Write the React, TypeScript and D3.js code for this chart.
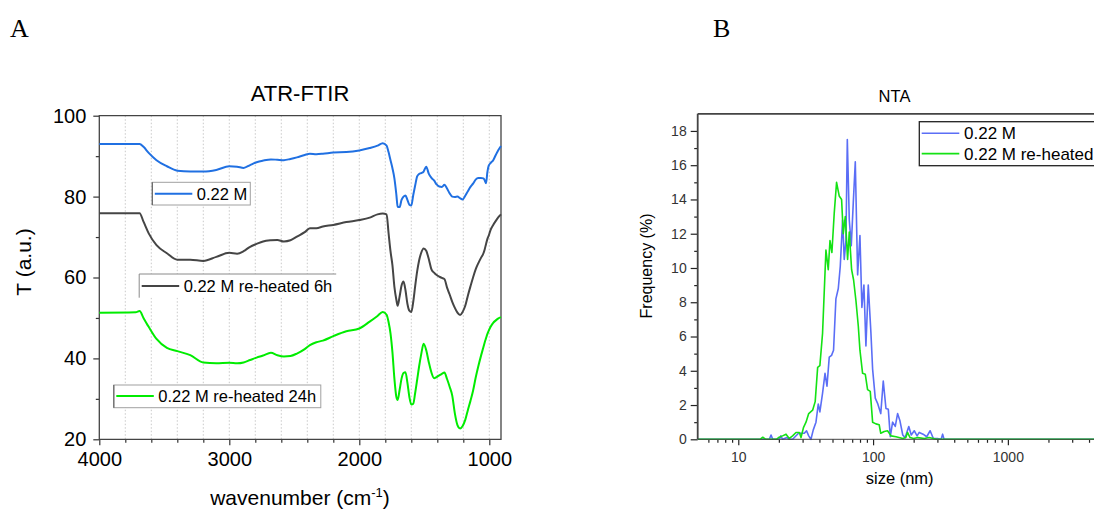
import { useEffect, useRef } from "react";
import {
    select,
    scaleLinear,
    scaleLog,
    axisBottom,
    axisLeft,
    line,
    curveMonotoneX,
    curveLinear,
    range,
} from "d3";

const FONT = "'Liberation Sans', Arial, sans-serif";

// ---- panel A: ATR-FTIR (wavenumber in cm-1, transmittance in a.u.)
const wavenumbers = [
    4000, 3720, 3690, 3660, 3620, 3560, 3480, 3400, 3300, 3200, 3100, 3000, 2940, 2890, 2840, 2790,
    2740, 2680, 2630, 2580, 2530, 2480, 2420, 2380, 2330, 2280, 2200, 2100, 2000, 1920, 1860, 1820,
    1790, 1775, 1760, 1745, 1730, 1715, 1705, 1690, 1675, 1660, 1645, 1630, 1615, 1600, 1585, 1570,
    1555, 1540, 1525, 1505, 1485, 1465, 1445, 1425, 1405, 1385, 1365, 1345, 1325, 1305, 1285, 1265,
    1245, 1225, 1205, 1185, 1165, 1145, 1125, 1105, 1085, 1065, 1045, 1035, 1025, 1015, 1005, 990,
    970, 950, 930, 910,
];
const tFresh = [
    93.0, 93.0, 93.0, 92.3, 90.8, 89.0, 87.5, 86.4, 86.2, 86.2, 86.6, 87.5, 87.4, 87.1, 87.8, 88.5,
    88.9, 89.2, 89.1, 89.0, 89.3, 89.7, 90.3, 90.6, 90.5, 90.6, 90.9, 91.0, 91.4, 92.0, 92.6, 93.2,
    92.6, 91.0, 89.0, 87.0, 84.5, 80.5, 77.5, 77.4, 79.2, 80.0, 80.3, 79.2, 78.0, 77.8, 80.4, 82.8,
    85.0, 85.6, 85.8, 86.2, 87.4, 85.6, 84.6, 84.0, 83.0, 82.5, 82.4, 82.9, 82.0, 80.8, 80.0, 79.9,
    80.0, 79.6, 79.3, 80.2, 81.3, 82.4, 83.2, 84.2, 84.6, 84.6, 84.5, 84.0, 83.3, 86.0, 87.6, 88.3,
    89.0, 90.3, 91.5, 92.5,
];
const tHeated6h = [
    75.9, 75.9, 75.9, 73.8, 70.9, 68.0, 66.0, 64.4, 64.4, 64.1, 65.1, 66.1, 65.9, 66.5, 67.6, 68.3,
    68.9, 69.2, 69.3, 68.9, 69.2, 70.1, 71.2, 72.2, 72.2, 72.6, 73.0, 73.7, 74.2, 74.8, 75.6, 75.8,
    75.6, 71.0, 66.5, 63.0, 57.7, 54.5, 53.0, 55.3, 58.0, 59.0, 56.9, 53.5, 51.8, 51.5, 54.0, 57.9,
    61.5, 64.2, 66.0, 67.2, 66.6, 64.5, 62.0, 61.2, 60.6, 60.2, 59.9, 59.6, 57.5, 55.8, 54.0, 52.5,
    51.3, 50.7, 51.5, 53.0, 55.5, 57.8, 60.0, 62.0, 63.5, 64.8, 66.0, 67.0, 68.3, 69.5, 70.3, 71.8,
    73.0, 74.0, 74.9, 75.6,
];
const tHeated24h = [
    51.3, 51.4, 51.7, 50.0, 47.8, 44.8, 42.6, 41.8, 40.8, 39.0, 38.8, 38.9, 38.8, 39.0, 39.6, 40.2,
    40.7, 41.4, 40.8, 40.5, 40.6, 41.2, 42.3, 43.3, 44.0, 44.4, 45.5, 46.7, 47.4, 49.1, 50.5, 51.5,
    50.8, 49.0, 46.2, 41.5, 35.0, 30.5, 29.7, 32.2, 35.0, 36.4, 36.6, 34.0, 30.5, 28.6, 28.8, 31.5,
    34.7, 38.0, 40.8, 43.6, 42.0, 39.0, 36.5, 35.1, 35.4, 35.8, 36.2, 36.5, 34.9, 33.0, 30.8, 26.4,
    23.5, 22.7, 23.3, 24.8, 27.2, 29.5, 32.0, 35.2, 38.0, 40.5, 42.8, 44.0, 45.0, 46.0, 46.8, 47.8,
    48.8, 49.4, 49.9, 50.2,
];
const ftirLabels = ["0.22 M", "0.22 M re-heated 6h", "0.22 M re-heated 24h"];
const ftirColors = ["#2070e2", "#454545", "#00ec00"];
const ftirXTicks = [4000, 3000, 2000, 1000];
const ftirYTicks = [20, 40, 60, 80, 100];

// ---- panel B: NTA (size in nm, frequency in %)
const ntaSizesFresh = [
    5, 17.0, 17.5, 18.0, 20.2, 20.7, 21.3, 23.0, 23.9, 25.3, 28.0, 29.7, 30.9, 32.1, 33.3, 34.6,
    36.0, 37.7, 39.2, 40.3, 42.2, 44.0, 45.5, 47.3, 49.2, 50.9, 53.0, 55.2, 57.1, 59.4, 61.1, 62.9,
    64.4, 66.6, 68.9, 71.3, 73.8, 76.8, 79.9, 82.6, 85.5, 88.5, 92.1, 96.4, 99.2, 103.8, 108, 114,
    119, 124.6, 129.7, 134.2, 139.6, 146.1, 152, 158, 166, 173, 184, 192, 202, 212, 220, 235, 250,
    265, 280, 300, 320, 328, 336, 10000,
];
const ntaFreqFresh = [
    0, 0, 0.25, 0, 0, 0.2, 0, 0.1, 0, 0, 0.35, 0.35, 0.35, 0.5, 0.2, 0,
    0.55, 1.0, 2.06, 1.6, 2.7, 3.85, 3.1, 4.8, 4.9, 5.2, 8.2, 8.8, 10.1, 12.8, 10.5, 11.6,
    17.5, 12.8, 11.3, 13.8, 16.2, 9.6, 11.9, 7.7, 9.0, 5.45, 9.0, 6.2, 4.1, 2.4, 2.1, 1.5,
    3.4, 1.8, 1.75, 0.15, 1.0, 0.75, 1.5, 1.1, 0.25, 0.1, 0.75, 0.25, 0.5, 0.2, 0.4, 0.3, 0.15,
    0.5, 0.05, 0.05, 0, 0.3, 0, 0,
];
const ntaSizesHeated = [
    5, 14.5, 15.2, 16.0, 19.2, 19.9, 21.3, 22.6, 23.9, 25.3, 26.8, 28.4, 29.2, 30.5, 31.8, 33.3,
    35.6, 37.2, 38.8, 40.3, 42.2, 44.7, 46.5, 47.9, 49.5, 51.5, 53.6, 56.1, 58.4, 60.1, 62.2, 64.7,
    66.6, 69.3, 71.7, 74.6, 77.7, 79.9, 83.6, 87.5, 91.0, 95.3, 99.2, 105, 111, 114, 121, 128,
    136, 148, 166, 175, 180, 188, 200, 215, 240, 260, 280, 295, 10000,
];
const ntaFreqHeated = [
    0, 0, 0.12, 0, 0, 0.1, 0.2, 0.3, 0.05, 0.2, 0.4, 0.4, 0.1, 0.7, 1.0, 1.5,
    1.7, 2.2, 4.2, 4.3, 6.2, 11.05, 9.9, 11.6, 10.9, 13.2, 15.0, 14.2, 14.0, 12.0, 13.0, 10.5,
    12.1, 9.9, 9.3, 8.1, 6.6, 5.2, 3.85, 3.8, 2.9, 2.8, 1.0, 0.9, 0.85, 0.35, 0.45, 0.5,
    0.2, 0.15, 0.05, 0.1, 0.4, 0.1, 0.05, 0.1, 0.05, 0.1, 0.05, 0, 0,
];
const ntaLabels = ["0.22 M", "0.22 M re-heated"];
const ntaColors = ["#5b6ef6", "#14e214"];
const ntaXTicks = [10, 100, 1000];
const ntaYTicks = [0, 2, 4, 6, 8, 10, 12, 14, 16, 18];

function App() {
    const svgRef = useRef(null);

    useEffect(() => {
        const svg = select(svgRef.current);
        svg.selectAll("*").remove();

        // panel letters
        svg.append("text").attr("x", 10).attr("y", 37).text("A")
            .attr("font-family", "'Liberation Serif', 'Times New Roman', serif").attr("font-size", 26);
        svg.append("text").attr("x", 713).attr("y", 37).text("B")
            .attr("font-family", "'Liberation Serif', 'Times New Roman', serif").attr("font-size", 26);

        // ================= panel A =================
        const xA = scaleLinear().domain([4000, 910]).range([99.3, 501]);
        const yA = scaleLinear().domain([20, 100]).range([439.3, 115.7]);
        const gA = svg.append("g");

        // dotted vertical grid
        gA.append("g")
            .selectAll("line")
            .data(range(3800, 900, -200))
            .join("line")
            .attr("x1", (d) => xA(d))
            .attr("x2", (d) => xA(d))
            .attr("y1", yA(100))
            .attr("y2", yA(20))
            .attr("stroke", "#c4c4c4")
            .attr("stroke-width", 0.9)
            .attr("stroke-dasharray", "1.5,2");

        // minor ticks
        gA.append("g")
            .attr("transform", `translate(0,${yA(20)})`)
            .call(axisBottom(xA).tickValues(range(3800, 900, -200).filter((d) => d % 1000 !== 0)).tickSize(3.5).tickFormat(() => ""))
            .call((g) => g.select(".domain").remove());
        gA.append("g")
            .attr("transform", `translate(${xA(4000)},0)`)
            .call(axisLeft(yA).tickValues([30, 50, 70, 90]).tickSize(3.5).tickFormat(() => ""))
            .call((g) => g.select(".domain").remove());

        // major ticks
        gA.append("g")
            .attr("transform", `translate(0,${yA(20)})`)
            .call(axisBottom(xA).tickValues(ftirXTicks).tickSize(6).tickPadding(7).tickFormat((d) => String(d)))
            .call((g) => g.select(".domain").remove())
            .attr("font-size", 20);
        gA.append("g")
            .attr("transform", `translate(${xA(4000)},0)`)
            .call(axisLeft(yA).tickValues(ftirYTicks).tickSize(6).tickPadding(7).tickFormat((d) => String(d)))
            .call((g) => g.select(".domain").remove())
            .attr("font-size", 20);

        gA.selectAll(".tick line").attr("stroke", "#333").attr("stroke-width", 1.2);
        gA.selectAll(".tick text").attr("fill", "#000").attr("font-family", FONT);

        // frame
        const [l, r] = xA.range();
        const [b, t] = yA.range();
        gA.append("path")
            .attr("d", `M${l},${b}H${r}V${t}H${l}Z`)
            .attr("fill", "none")
            .attr("stroke", "#444")
            .attr("stroke-width", 1.3);

        // spectra
        const ftirLine = line()
            .x((d) => xA(d[0]))
            .y((d) => yA(d[1]))
            .curve(curveMonotoneX);
        [tFresh, tHeated6h, tHeated24h].forEach((series, i) => {
            gA.append("path")
                .datum(wavenumbers.map((w, j) => [w, series[j]]))
                .attr("d", ftirLine)
                .attr("fill", "none")
                .attr("stroke", ftirColors[i])
                .attr("stroke-width", 2)
                .attr("stroke-linejoin", "round");
        });

        // legends (one box per trace)
        const legA = [
            { x: 152.3, y: 182.3, w: 98, h: 22.7, base: 200, lineY: 193.7 },
            { x: 139.2, y: 274, w: 197, h: 23.7, base: 292.3, lineY: 286, open: true },
            { x: 113.8, y: 385, w: 207, h: 22.7, base: 402.3, lineY: 396 },
        ];
        legA.forEach((o, i) => {
            const lg = gA.append("g");
            if (o.open) {
                lg.append("rect").attr("x", o.x).attr("y", o.y).attr("width", o.w).attr("height", o.h).attr("fill", "#fff");
                lg.append("path").attr("d", `M${o.x + o.w},${o.y}H${o.x}V${o.y + o.h}`)
                    .attr("fill", "none").attr("stroke", "#8a8a8a").attr("stroke-width", 1);
            } else {
                lg.append("rect").attr("x", o.x).attr("y", o.y).attr("width", o.w).attr("height", o.h)
                    .attr("fill", "#fff").attr("stroke", "#a0a0a0").attr("stroke-width", 1);
                lg.append("line").attr("x1", o.x).attr("x2", o.x).attr("y1", o.y).attr("y2", o.y + o.h)
                    .attr("stroke", "#666").attr("stroke-width", 1.2);
            }
            lg.append("line")
                .attr("x1", o.x + 2.5).attr("x2", o.x + 40).attr("y1", o.lineY).attr("y2", o.lineY)
                .attr("stroke", ftirColors[i]).attr("stroke-width", 2);
            lg.append("text")
                .attr("x", o.x + 44.5).attr("y", o.base)
                .attr("font-family", FONT).attr("font-size", 16.5)
                .text(ftirLabels[i]);
        });

        // titles
        gA.append("text").attr("x", 300).attr("y", 100.5).attr("text-anchor", "middle")
            .attr("font-family", FONT).attr("font-size", 22).text("ATR-FTIR");
        const xt = gA.append("text").attr("x", 300).attr("y", 505).attr("text-anchor", "middle")
            .attr("font-family", FONT).attr("font-size", 21);
        xt.append("tspan").text("wavenumber (cm");
        xt.append("tspan").attr("font-size", 13).attr("dy", -8).text("-1");
        xt.append("tspan").attr("dy", 8).text(")");
        gA.append("text").attr("transform", "translate(31,262) rotate(-90)").attr("text-anchor", "middle")
            .attr("font-family", FONT).attr("font-size", 21).text("T (a.u.)");

        // ================= panel B =================
        const xB = scaleLog().domain([5, 10000]).range([697.7, 697.7 + Math.log10(2000) * 134.8]);
        const yB = scaleLinear().domain([0, 19]).range([439.3, 113.8]);
        const gB = svg.append("g");

        const minorX = [];
        [1, 10, 100, 1000].forEach((dec) => {
            for (let k = 2; k <= 9; k++) {
                const v = k * dec;
                if (v > 5 && v <= 10000) minorX.push(v);
            }
        });
        gB.append("g")
            .attr("transform", `translate(0,${yB(0)})`)
            .call(axisBottom(xB).tickValues(minorX).tickSize(3.5).tickFormat(() => ""))
            .call((g) => g.select(".domain").remove());
        gB.append("g")
            .attr("transform", `translate(${xB(5)},0)`)
            .call(axisLeft(yB).tickValues(range(1, 19, 2)).tickSize(3.5).tickFormat(() => ""))
            .call((g) => g.select(".domain").remove());
        gB.append("g")
            .attr("transform", `translate(0,${yB(0)})`)
            .call(axisBottom(xB).tickValues(ntaXTicks).tickSize(6).tickPadding(6.5).tickFormat((d) => String(d)))
            .call((g) => g.select(".domain").remove())
            .attr("font-size", 14);
        gB.append("g")
            .attr("transform", `translate(${xB(5)},0)`)
            .call(axisLeft(yB).tickValues(ntaYTicks).tickSize(7).tickPadding(4).tickFormat((d) => String(d)))
            .call((g) => g.select(".domain").remove())
            .attr("font-size", 14);
        gB.selectAll(".tick line").attr("stroke", "#222").attr("stroke-width", 1.2);
        gB.selectAll(".tick text").attr("fill", "#333").attr("font-family", FONT);

        // spectra
        const ntaLine = line()
            .x((d) => xB(d[0]))
            .y((d) => yB(d[1]))
            .curve(curveLinear);
        [
            [ntaSizesFresh, ntaFreqFresh],
            [ntaSizesHeated, ntaFreqHeated],
        ].forEach(([sizes, freq], i) => {
            gB.append("path")
                .datum(sizes.map((s, j) => [s, freq[j]]))
                .attr("d", ntaLine)
                .attr("fill", "none")
                .attr("stroke", ntaColors[i])
                .attr("stroke-width", 1.6)
                .attr("stroke-linejoin", "round");
        });

        // frame
        const [bl, br] = xB.range();
        const [bb, bt] = yB.range();
        gB.append("path")
            .attr("d", `M${bl},${bt}V${bb}M${bl},${bt}H${br}V${bb}`)
            .attr("fill", "none")
            .attr("stroke", "#444")
            .attr("stroke-width", 1.8);
        gB.append("line").attr("x1", bl).attr("x2", br).attr("y1", bb).attr("y2", bb)
            .attr("stroke", "#444").attr("stroke-width", 1);

        // legend
        const lgB = gB.append("g");
        lgB.append("rect").attr("x", 919.3).attr("y", 121.7).attr("width", 200).attr("height", 44)
            .attr("fill", "#fff").attr("stroke", "#222").attr("stroke-width", 1.3);
        ntaLabels.forEach((lab, i) => {
            const yy = 133.3 + i * 20.3;
            lgB.append("line").attr("x1", 921.7).attr("x2", 959.3).attr("y1", yy).attr("y2", yy)
                .attr("stroke", ntaColors[i]).attr("stroke-width", 1.6);
            lgB.append("text").attr("x", 964).attr("y", yy + 6)
                .attr("font-family", FONT).attr("font-size", 17).text(lab);
        });

        // titles
        gB.append("text").attr("x", 894.5).attr("y", 102.3).attr("text-anchor", "middle")
            .attr("font-family", FONT).attr("font-size", 16.5).text("NTA");
        gB.append("text").attr("x", 899.7).attr("y", 484).attr("text-anchor", "middle")
            .attr("font-family", FONT).attr("font-size", 16.5).text("size (nm)");
        gB.append("text").attr("transform", "translate(651.5,266) rotate(-90)").attr("text-anchor", "middle")
            .attr("font-family", FONT).attr("font-size", 16).text("Frequency (%)");
    }, []);

    return (
        <>
            <style>{"body{margin:0;background:#fff}"}</style>
            <svg ref={svgRef} width={1094} height={510} style={{ display: "block" }}></svg>
        </>
    );
}

export default App;
